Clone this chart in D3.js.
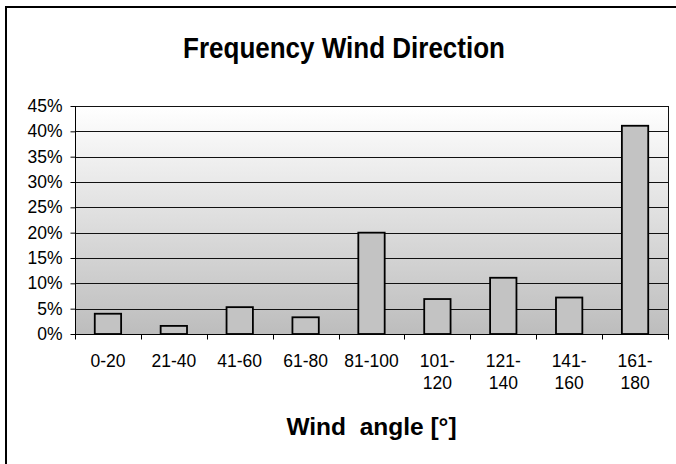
<!DOCTYPE html>
<html>
<head>
<meta charset="utf-8">
<script src="https://cdn.jsdelivr.net/npm/d3@7"></script>
<style>
  html, body { margin: 0; padding: 0; background: #fff; }
  svg { display: block; font-family: "Liberation Sans", Arial, sans-serif; }
</style>
</head>
<body>
<svg id="chart" width="676" height="464"></svg>
<script>
// Wind direction classes (degrees) and their relative frequency
const categories = ["0-20", "21-40", "41-60", "61-80", "81-100", "101-120", "121-140", "141-160", "161-180"];
const categoryLines = [["0-20"], ["21-40"], ["41-60"], ["61-80"], ["81-100"], ["101-", "120"], ["121-", "140"], ["141-", "160"], ["161-", "180"]];
const frequency = [0.040, 0.016, 0.053, 0.033, 0.200, 0.069, 0.111, 0.072, 0.411];
const yTicks = [0, 0.05, 0.10, 0.15, 0.20, 0.25, 0.30, 0.35, 0.40, 0.45];

const svg = d3.select("#chart");
const W = 676, H = 464;
const plot = { left: 75, right: 668, top: 106, bottom: 334 };

// Outer chart frame (runs off the right and bottom edges)
svg.append("rect")
  .attr("x", 6).attr("y", 7)
  .attr("width", W + 20).attr("height", H + 20)
  .attr("fill", "#fff").attr("stroke", "#000").attr("stroke-width", 2);

const x = d3.scaleBand().domain(categories).range([plot.left, plot.right]).paddingInner(0).paddingOuter(0);
const y = d3.scaleLinear().domain([0, 0.45]).range([plot.bottom, plot.top]);

// Plot area gradient
const defs = svg.append("defs");
const grad = defs.append("linearGradient").attr("id", "bg").attr("x1", 0).attr("y1", 0).attr("x2", 0).attr("y2", 1);
grad.append("stop").attr("offset", "0%").attr("stop-color", "#ffffff");
grad.append("stop").attr("offset", "100%").attr("stop-color", "#bdbdbd");

svg.append("rect")
  .attr("x", plot.left).attr("y", plot.top)
  .attr("width", plot.right - plot.left).attr("height", plot.bottom - plot.top)
  .attr("fill", "url(#bg)");

// Horizontal gridlines
svg.append("g")
  .selectAll("line")
  .data(yTicks.slice(1))
  .join("line")
  .attr("x1", plot.left).attr("x2", plot.right)
  .attr("y1", d => Math.round(y(d)) + 0.5).attr("y2", d => Math.round(y(d)) + 0.5)
  .attr("stroke", "#111").attr("stroke-width", 1);

// Right border of the plot area
svg.append("line")
  .attr("x1", plot.right + 0.5).attr("x2", plot.right + 0.5)
  .attr("y1", plot.top).attr("y2", plot.bottom)
  .attr("stroke", "#111").attr("stroke-width", 1);

// Bars (gap width 150%)
const barW = x.bandwidth() / 2.5;
svg.append("g")
  .selectAll("rect")
  .data(categories)
  .join("rect")
  .attr("x", (d) => x(d) + (x.bandwidth() - barW) / 2)
  .attr("y", (d, i) => y(frequency[i]))
  .attr("width", barW)
  .attr("height", (d, i) => y(0) - y(frequency[i]))
  .attr("fill", "#c3c3c3")
  .attr("stroke", "#000")
  .attr("stroke-width", 1.8);

// Y axis
const yAxis = d3.axisLeft(y).tickValues(yTicks).tickFormat(d3.format(".0%")).tickSize(5).tickPadding(8);
const gy = svg.append("g").attr("transform", `translate(${plot.left + 0.5},0)`).call(yAxis);
gy.select(".domain").attr("stroke", "#000").attr("d", `M0,${plot.bottom}V${plot.top}`);
gy.selectAll(".tick line").attr("stroke", "#000");
gy.selectAll(".tick text").attr("fill", "#000").style("font-size", "17.5px").style("font-family", "'Liberation Sans', Arial, sans-serif");

// X axis: ticks at category boundaries
const gx = svg.append("g").attr("transform", `translate(0,${plot.bottom + 0.5})`);
gx.append("line").attr("x1", plot.left).attr("x2", plot.right + 1).attr("y1", 0).attr("y2", 0).attr("stroke", "#000");
const boundaries = categories.map(c => x(c)).concat([plot.right]);
gx.selectAll("line.tick")
  .data(boundaries)
  .join("line")
  .attr("class", "tick")
  .attr("x1", d => Math.round(d) + 0.5).attr("x2", d => Math.round(d) + 0.5)
  .attr("y1", 0).attr("y2", 5)
  .attr("stroke", "#000");

const labels = gx.selectAll("text.cat")
  .data(categories)
  .join("text")
  .attr("class", "cat")
  .attr("text-anchor", "middle")
  .attr("font-size", 17.5)
  .attr("fill", "#000");
labels.each(function (d, i) {
  const t = d3.select(this);
  categoryLines[i].forEach((line, k) => {
    t.append("tspan")
      .attr("x", x(d) + x.bandwidth() / 2)
      .attr("y", 32 + k * 22.7)
      .text(line);
  });
});

// Titles
svg.append("text")
  .attr("transform", "translate(344,58) scale(1,1.1)")
  .attr("text-anchor", "middle")
  .attr("font-size", 26).attr("font-weight", "bold")
  .text("Frequency Wind Direction");

svg.append("text")
  .attr("x", (plot.left + plot.right) / 2).attr("y", 435)
  .attr("text-anchor", "middle")
  .attr("font-size", 24.5).attr("font-weight", "bold")
  .style("white-space", "pre")
  .text("Wind  angle [°]");
</script>
</body>
</html>
